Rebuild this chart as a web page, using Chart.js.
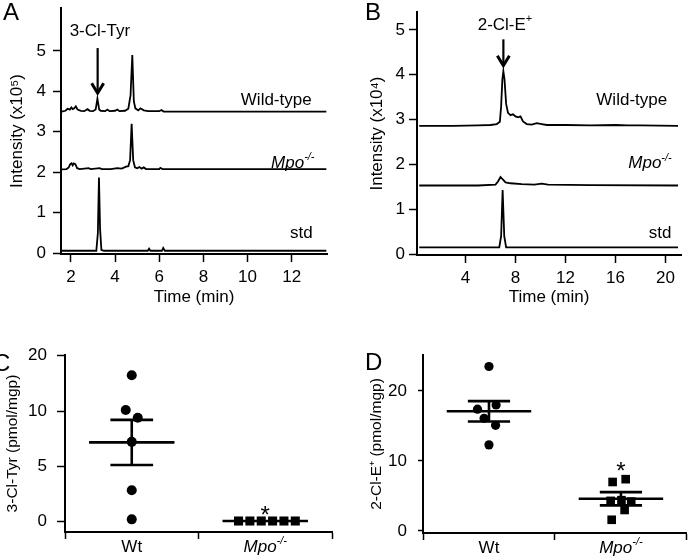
<!DOCTYPE html>
<html lang="en">
<head>
<meta charset="UTF-8">
<title>3-Cl-Tyr and 2-Cl-E+ in Wt and Mpo-/- mice</title>
<script src="https://cdn.jsdelivr.net/npm/chart.js"></script>
<style>
  body { margin: 0; background: #fff; font-family: "Liberation Sans", Arial, sans-serif; }
  #fig { position: relative; width: 693px; height: 558px; overflow: hidden; }
  #fig canvas { position: absolute; }
  .panel { position: absolute; font-size: 24px; line-height: 24px; color: #000; }
</style>
</head>
<body>
<div id="fig">
  <canvas id="chartA" width="345" height="310" style="left:0;top:0"></canvas>
  <canvas id="chartB" width="348" height="310" style="left:345px;top:0"></canvas>
  <canvas id="chartC" width="345" height="248" style="left:0;top:310px"></canvas>
  <canvas id="chartD" width="348" height="248" style="left:345px;top:310px"></canvas>
  <div class="panel" style="left:3px;top:0">A</div>
  <div class="panel" style="left:365px;top:0">B</div>
  <div class="panel" style="left:-7px;top:351px">C</div>
  <div class="panel" style="left:365px;top:350px">D</div>
</div>
<script>
// --- panel A: 3-Cl-Tyr chromatograms, [time (min), intensity x10^5]
const wtTraceA = [[1.58,3.50],[1.75,3.52],[1.85,3.57],[1.95,3.55],[2.02,3.60],[2.08,3.56],[2.15,3.58],[2.22,3.63],[2.3,3.55],
  [2.45,3.52],[2.6,3.51],[2.75,3.56],[2.85,3.52],[3.0,3.51],[3.12,3.55],[3.2,3.82],[3.28,3.55],[3.35,3.52],[3.55,3.51],
  [3.65,3.55],[3.75,3.51],[4.0,3.52],[4.1,3.55],[4.2,3.51],[4.45,3.52],[4.6,3.57],[4.7,3.9],[4.78,4.90],[4.85,3.75],
  [4.92,3.58],[5.05,3.53],[5.15,3.58],[5.3,3.53],[5.5,3.51],[6.0,3.51],[6.1,3.54],[6.2,3.50],[6.5,3.50],[13.57,3.50]];
const mpoTraceA = [[1.58,2.07],[1.8,2.08],[1.9,2.12],[1.97,2.2],[2.03,2.22],[2.08,2.17],[2.13,2.22],[2.2,2.2],[2.28,2.1],
  [2.4,2.08],[2.8,2.1],[2.9,2.08],[3.3,2.1],[3.4,2.08],[3.8,2.08],[4.1,2.1],[4.3,2.09],[4.5,2.14],[4.6,2.15],[4.68,2.3],
  [4.75,3.2],[4.82,2.3],[4.9,2.12],[5.0,2.1],[5.1,2.13],[5.2,2.09],[5.3,2.12],[5.4,2.08],[6.0,2.08],[6.05,2.11],
  [6.15,2.08],[6.4,2.08],[13.57,2.08]];
const stdTraceA = [[1.58,0.06],[3.15,0.06],[3.22,0.5],[3.27,1.87],[3.32,0.6],[3.38,0.08],[3.5,0.06],[5.48,0.06],
  [5.54,0.11],[5.6,0.06],[6.12,0.06],[6.18,0.13],[6.25,0.06],[13.57,0.06]];
const xTicksA = [2, 4, 6, 8, 10, 12];
const yTicksA = [0, 1, 2, 3, 4, 5];

// --- panel B: 2-Cl-E+ chromatograms, [time (min), intensity x10^4]
const wtTraceB = [[0.3,2.86],[3,2.86],[5,2.87],[6,2.88],[6.5,2.9],[6.75,2.95],[6.85,3.3],[6.95,3.9],[7.03,4.08],[7.12,3.9],
  [7.25,3.35],[7.4,3.15],[7.6,3.1],[7.8,3.12],[8.0,3.07],[8.2,3.05],[8.4,3.07],[8.6,2.96],[8.9,2.9],[9.3,2.89],
  [9.7,2.92],[10.1,2.9],[10.5,2.88],[12,2.88],[14,2.87],[16,2.88],[17,2.87],[18,2.87],[21,2.86]];
const mpoTraceB = [[0.3,1.53],[5,1.53],[6.4,1.55],[6.6,1.62],[6.8,1.72],[7.0,1.66],[7.2,1.6],[7.6,1.58],[8.5,1.56],
  [9.5,1.55],[10.1,1.57],[10.6,1.55],[14,1.54],[21,1.53]];
const stdTraceB = [[0.3,0.15],[6.7,0.15],[6.85,0.4],[6.97,1.43],[7.1,0.4],[7.25,0.15],[21,0.15]];
const xTicksB = [4, 8, 12, 16, 20];
const yTicksB = [0, 1, 2, 3, 4, 5];

// --- panels C and D: per-mouse values (pmol/mgp)
const groupLabels = ['Wt', 'Mpo'];
const wtC = [16.4, 10.2, 9.4, 7.2, 2.8, 0.15];
const wtJitterC = [0, -0.045, 0.045, 0, 0, 0];
const mpoC = [0, 0, 0, 0, 0, 0];
const mpoJitterC = [-0.2, -0.115, -0.03, 0.055, 0.14, 0.225];
const meanC = [7.15, 0];
const semC = [2.05, 0];
const yTicksC = [0, 5, 10, 20];

const wtD = [23.5, 18.0, 17.4, 16.1, 15.1, 12.3];
const wtJitterD = [0, 0.054, -0.087, -0.037, 0.05, 0];
const mpoD = [7.4, 7.0, 4.4, 4.3, 4.2, 3.0, 1.6];
const mpoJitterD = [0.036, -0.063, 0.004, -0.078, 0.078, 0.028, -0.07];
const meanD = [17.1, 4.6];
const semD = [1.45, 0.95];
const yTicksD = [0, 10, 20];

const FONT = '"Liberation Sans", Arial, sans-serif';
Chart.defaults.font.family = FONT;
Chart.defaults.font.size = 17;
Chart.defaults.color = '#000';

// y axis of panel C is compressed above 10
class BrokenScale extends Chart.LinearScale {
  static id = 'broken';
  static defaults = Chart.LinearScale.defaults;
  fold(v) { return v <= 10 ? v : 10 + (v - 10) * 0.51; }
  getPixelForValue(v) {
    if (v === null || v === undefined) return NaN;
    const a = this.fold(this.min), b = this.fold(this.max);
    return this.getPixelForDecimal((this.fold(v) - a) / (b - a));
  }
}
Chart.register(BrokenScale);

const pts = arr => arr.map(p => ({ x: p[0], y: p[1] }));
const setTicks = list => s => { s.ticks = list.map(v => ({ value: v })); };
const fixSize = (prop, n) => s => {
  s[prop] = n;
  s.paddingTop = 0; s.paddingBottom = 0; s.paddingLeft = 0; s.paddingRight = 0;
};

const mpoParts = [{ t: 'Mpo', italic: true }, { t: '-/-', sup: true, italic: true }];

function drawRich(ctx, x, y, parts, align) {
  const fontOf = p => (p.italic ? 'italic ' : '') + (p.sup ? 11 : (p.size || 17)) + 'px ' + FONT;
  let w = 0;
  parts.forEach(p => { ctx.font = fontOf(p); w += ctx.measureText(p.t).width; });
  let cx = align === 'center' ? x - w / 2 : align === 'right' ? x - w : x;
  ctx.textAlign = 'left';
  ctx.textBaseline = 'middle';
  ctx.fillStyle = '#000';
  parts.forEach(p => {
    ctx.font = fontOf(p);
    ctx.fillText(p.t, cx, p.sup ? y - 6 : y);
    cx += ctx.measureText(p.t).width;
  });
}

function notes(cfg) {
  return {
    id: 'notes',
    afterDatasetsDraw(chart) {
      const { ctx, scales: { x, y } } = chart;
      ctx.save();
      (cfg.arrows || []).forEach(a => {
        const px = x.getPixelForValue(a.x), y1 = y.getPixelForValue(a.from), y2 = y.getPixelForValue(a.to);
        ctx.strokeStyle = '#000';
        ctx.lineWidth = 2.2;
        ctx.beginPath(); ctx.moveTo(px, y1); ctx.lineTo(px, y2 - 2); ctx.stroke();
        ctx.lineWidth = 3;
        ctx.beginPath(); ctx.moveTo(px - 6, y2 - 11); ctx.lineTo(px, y2 - 1); ctx.lineTo(px + 6, y2 - 11); ctx.stroke();
      });
      (cfg.labels || []).forEach(l => {
        const px = l.px !== undefined ? x.getPixelForValue(l.px) : x.getPixelForValue(l.x);
        const py = l.below !== undefined ? x.top + l.below : y.getPixelForValue(l.y);
        drawRich(ctx, px, py, l.parts, l.align || 'center');
      });
      ctx.restore();
    }
  };
}

function axisStyle(tickLength, pad) {
  return {
    grid: { drawOnChartArea: false, tickLength: tickLength, tickWidth: 1.5, tickColor: '#000' },
    border: { color: '#000', width: 2 },
    ticks: { padding: pad, color: '#000', font: { size: 17 } }
  };
}

function chromChart(id, traces, cfg) {
  return new Chart(document.getElementById(id), {
    type: 'scatter',
    data: {
      datasets: traces.map(t => ({
        data: pts(t), showLine: true, borderColor: '#000', borderWidth: 1.8,
        pointRadius: 0, tension: 0, clip: false
      }))
    },
    options: {
      responsive: false, animation: false, devicePixelRatio: 1,
      layout: { padding: cfg.padding },
      plugins: { legend: { display: false }, tooltip: { enabled: false } },
      scales: {
        x: Object.assign(axisStyle(8, 5), {
          type: 'linear', min: cfg.xMin, max: cfg.xMax,
          afterBuildTicks: setTicks(cfg.xTicks),
          afterFit: fixSize('height', cfg.xHeight),
          title: { display: true, text: 'Time (min)', font: { size: 17 }, padding: { top: 0, bottom: 2 } }
        }),
        y: Object.assign(axisStyle(8, cfg.yPad), {
          type: 'linear', min: cfg.yMin, max: cfg.yMax,
          afterBuildTicks: setTicks(cfg.yTicks),
          afterFit: fixSize('width', cfg.yWidth),
          title: { display: true, text: cfg.yTitle, font: { size: 17 }, padding: { top: cfg.yTitlePad, bottom: 0 } }
        })
      }
    },
    plugins: [notes(cfg.notes)]
  });
}

function dotChart(id, cfg) {
  const datasets = [
    { data: cfg.wt.map((v, i) => ({ x: 0 + cfg.wtJitter[i], y: v })), pointStyle: 'circle',
      pointRadius: cfg.dotR, backgroundColor: '#000', borderColor: '#000', borderWidth: 0, clip: false },
    { data: cfg.mpo.map((v, i) => ({ x: 1 + cfg.mpoJitter[i], y: v })), pointStyle: 'rect',
      pointRadius: cfg.boxR, backgroundColor: '#000', borderColor: '#000', borderWidth: 0, clip: false }
  ];
  const seg = (x1, x2, y1, y2) => datasets.push({
    data: [{ x: x1, y: y1 }, { x: x2, y: y2 }], showLine: true, borderColor: '#000',
    borderWidth: 2.6, pointRadius: 0, clip: false
  });
  cfg.mean.forEach((m, i) => {
    const s = cfg.sem[i];
    seg(i - 0.32, i + 0.32, m, m);
    if (s > 0) {
      seg(i - 0.16, i + 0.16, m + s, m + s);
      seg(i - 0.16, i + 0.16, m - s, m - s);
      seg(i, i, m - s, m + s);
    }
  });
  return new Chart(document.getElementById(id), {
    type: 'scatter',
    data: { datasets },
    options: {
      responsive: false, animation: false, devicePixelRatio: 1,
      layout: { padding: cfg.padding },
      plugins: { legend: { display: false }, tooltip: { enabled: false } },
      scales: {
        x: Object.assign(axisStyle(7, 2), {
          type: 'linear', min: -0.5, max: 1.5,
          afterBuildTicks: setTicks([-0.5, 0, 0.5, 1, 1.5]),
          afterFit: fixSize('height', cfg.xHeight),
          grid: {
            drawOnChartArea: false, tickLength: 7, tickWidth: 1.5,
            tickColor: c => (c.tick && Math.abs(c.tick.value % 1) > 0 ? '#000' : 'rgba(0,0,0,0)')
          },
          ticks: { callback: () => '' }
        }),
        y: Object.assign(axisStyle(cfg.yTickLen, cfg.yPad), {
          type: cfg.yType, min: cfg.yMin, max: cfg.yMax,
          afterBuildTicks: setTicks(cfg.yTicks),
          afterFit: fixSize('width', cfg.yWidth),
          title: { display: true, text: cfg.yTitle, font: { size: 15.5 }, padding: { top: cfg.yTitlePad, bottom: 0 } }
        })
      }
    },
    plugins: [notes({
      labels: [
        { px: 0, below: 15, parts: [{ t: groupLabels[0] }] },
        { px: 1, below: 15, parts: mpoParts },
        { x: 1, y: cfg.starY, parts: [{ t: '*', size: 24 }] }
      ]
    })]
  });
}

chromChart('chartA', [wtTraceA, mpoTraceA, stdTraceA], {
  padding: { left: 0, top: 8, right: 18, bottom: 0 },
  xMin: 1.55, xMax: 13.6, yMin: -0.02, yMax: 6.06,
  xTicks: xTicksA, yTicks: yTicksA, xHeight: 56, yWidth: 61, yPad: 7, yTitlePad: 7,
  yTitle: 'Intensity (x10\u2075)',
  notes: {
    arrows: [{ x: 3.21, from: 5.07, to: 3.93 }],
    labels: [
      { x: 3.31, y: 5.48, parts: [{ t: '3-Cl-Tyr' }] },
      { x: 11.3, y: 3.79, parts: [{ t: 'Wild-type' }] },
      { x: 12.05, y: 2.23, parts: mpoParts },
      { x: 12.44, y: 0.5, parts: [{ t: 'std' }] }
    ]
  }
});

chromChart('chartB', [wtTraceB, mpoTraceB, stdTraceB], {
  padding: { left: 0, top: 12, right: 12, bottom: 0 },
  xMin: 0.12, xMax: 21.24, yMin: -0.02, yMax: 5.4,
  xTicks: xTicksB, yTicks: yTicksB, xHeight: 55, yWidth: 72, yPad: 4, yTitlePad: 21.8,
  yTitle: 'Intensity (x10\u2074)',
  notes: {
    arrows: [{ x: 7.03, from: 4.79, to: 4.18 }],
    labels: [
      { x: 7.16, y: 5.1, parts: [{ t: '2-Cl-E' }, { t: '+', sup: true }] },
      { x: 17.3, y: 3.44, parts: [{ t: 'Wild-type' }] },
      { x: 18.76, y: 2.02, parts: mpoParts },
      { x: 19.56, y: 0.46, parts: [{ t: 'std' }] }
    ]
  }
});

dotChart('chartC', {
  wt: wtC, wtJitter: wtJitterC, mpo: mpoC, mpoJitter: mpoJitterC, mean: meanC, sem: semC,
  dotR: 5, boxR: 6.4, starY: 0.45,
  padding: { left: 0, top: 45, right: 13, bottom: 0 },
  yType: 'broken', yMin: -1, yMax: 20, yTicks: yTicksC,
  xHeight: 26, yWidth: 65, yTickLen: 8, yPad: 10, yTitlePad: 3,
  yTitle: '3-Cl-Tyr (pmol/mgp)'
});

dotChart('chartD', {
  wt: wtD, wtJitter: wtJitterD, mpo: mpoD, mpoJitter: mpoJitterD, mean: meanD, sem: semD,
  dotR: 4.6, boxR: 6.1, starY: 8.4,
  padding: { left: 0, top: 45, right: 1, bottom: 0 },
  yType: 'linear', yMin: -0.29, yMax: 25.14, yTicks: yTicksD,
  xHeight: 25, yWidth: 78, yTickLen: 5, yPad: 11, yTitlePad: 22,
  yTitle: '2-Cl-E\u207a (pmol/mgp)'
});
</script>
</body>
</html>
